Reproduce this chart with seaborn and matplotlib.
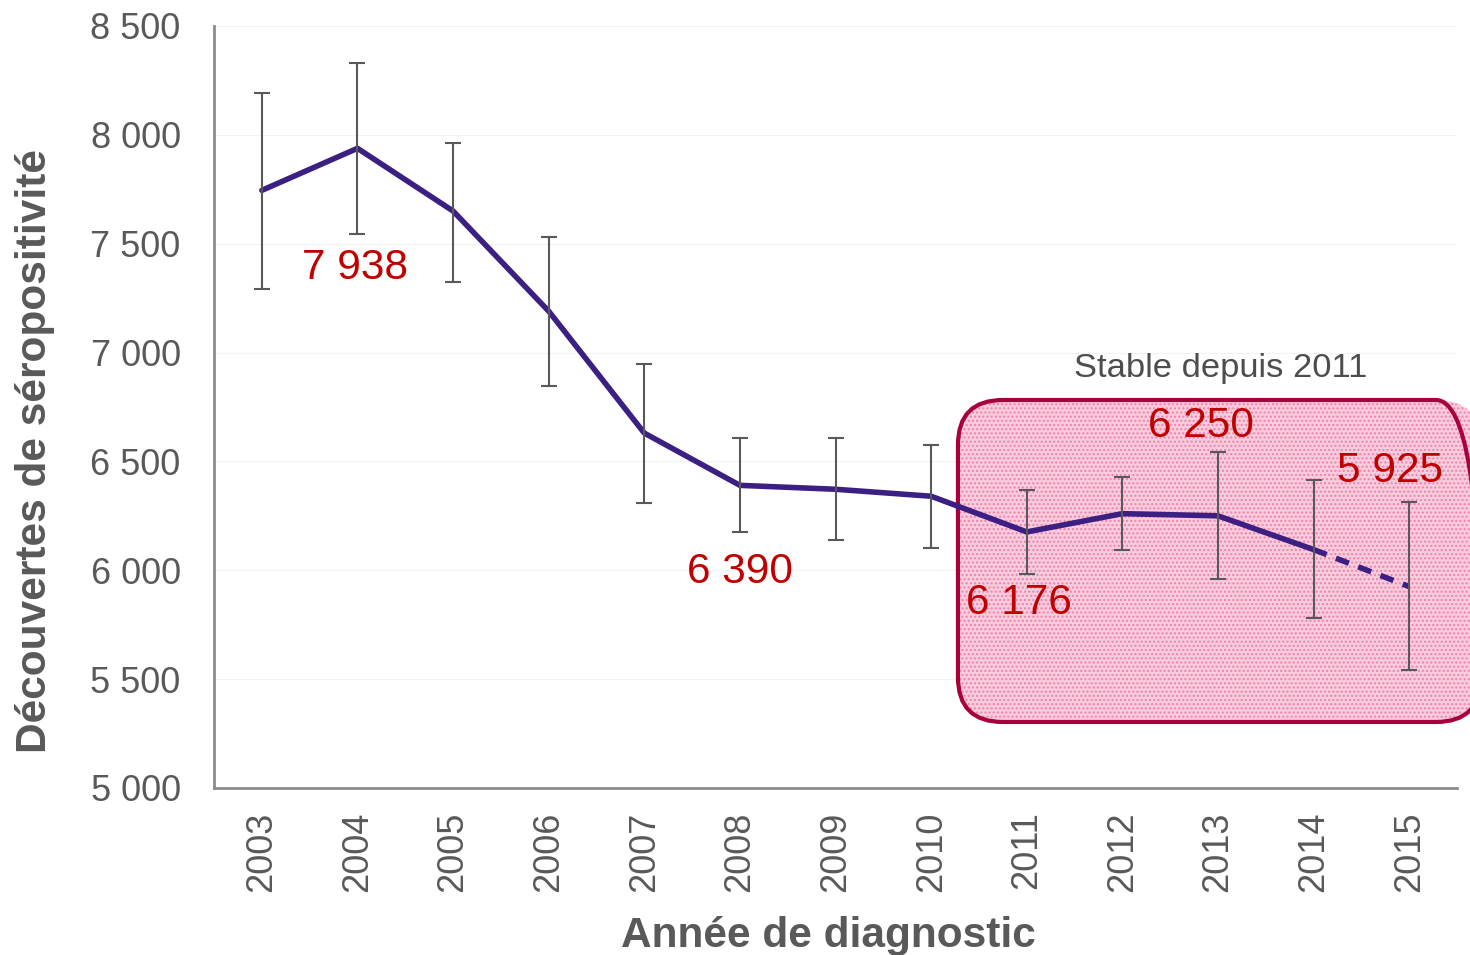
import matplotlib
matplotlib.use("Agg")
import matplotlib.pyplot as plt
from matplotlib.patches import FancyBboxPatch
from matplotlib.transforms import IdentityTransform
from matplotlib.ticker import FixedLocator
import numpy as np
import pandas as pd
import seaborn as sns

# data
years = [2003, 2004, 2005, 2006, 2007, 2008, 2009, 2010, 2011, 2012, 2013, 2014, 2015]
cases = [7745, 7938, 7650, 7190, 6630, 6390, 6372, 6340, 6176, 6260, 6250, 6095, 5925]
lower = [7292, 7545, 7324, 6846, 6309, 6176, 6139, 6102, 5983, 6093, 5960, 5781, 5542]
upper = [8192, 8330, 7963, 7531, 6948, 6608, 6608, 6575, 6369, 6428, 6543, 6415, 6314]
labels = ["7 938", "6 390", "6 176", "6 250", "5 925"]
label_pos = [(0.97, 7390), (5.0, 5993), (7.92, 5850), (9.82, 6663), (11.8, 6457)]
yticks = [5000, 5500, 6000, 6500, 7000, 7500, 8000, 8500]

sns.set_style("white")
plt.rcParams['font.family'] = ['Liberation Sans', 'DejaVu Sans']

GREY = '#595959'
LINE = '#3B1F82'
RED = '#C00000'

df = pd.DataFrame({'idx': np.arange(len(years)), 'cases': cases})
solid = df.iloc[:-1]
dashed = df.iloc[-2:]

fig = plt.figure(figsize=(14.7, 9.55), dpi=100)
ax = fig.add_axes([0.1456, 0.1749, 0.9912 - 0.1456, 0.9728 - 0.1749])

ax.set_xlim(-0.5, len(years) - 0.5)
ax.set_ylim(5000, 8500)
fig.canvas.draw()

# shaded "stable" box, corners computed from data coords (pixel space for round corners)
x0, y0 = ax.transData.transform((7.28, 5303))
x1, y1 = ax.transData.transform((12.75, 6782))
box_fill = FancyBboxPatch((x0, y0), x1 - x0, y1 - y0, boxstyle="round,pad=0,rounding_size=45",
                          transform=IdentityTransform(), facecolor='#F9CCDD', edgecolor='#EE82AA',
                          hatch='....', linewidth=0, zorder=1, clip_on=False)
box_edge = FancyBboxPatch((x0, y0), x1 - x0, y1 - y0, boxstyle="round,pad=0,rounding_size=45",
                          transform=IdentityTransform(), facecolor='none', edgecolor='#A8003C',
                          linewidth=3, zorder=1.5, clip_on=False)
ax.add_patch(box_fill)
ax.add_patch(box_edge)

sns.lineplot(data=solid, x='idx', y='cases', ax=ax, color=LINE, lw=4, zorder=3)
sns.lineplot(data=dashed, x='idx', y='cases', ax=ax, color=LINE, lw=4,
             linestyle=(0, (2.5, 1.8)), zorder=3)

err = np.array([np.array(cases) - np.array(lower), np.array(upper) - np.array(cases)])
ax.errorbar(df['idx'], cases, yerr=err, fmt='none', ecolor=GREY, elinewidth=1.5,
            capsize=6, capthick=1.5, zorder=4)

for txt, (xx, yy) in zip(labels, label_pos):
    ax.text(xx, yy, txt, color=RED, fontsize=30.5, ha='center', va='center', zorder=6)
ax.text(10.03, 6925, "Stable depuis 2011", color='#4d4d4d', fontsize=24.8,
        ha='center', va='center', zorder=6)

# axes styling
ax.set_yticks(yticks)
ax.set_yticklabels([f"{v:,}".replace(",", " ") for v in yticks])
ax.yaxis.grid(True, color='#F2F2F2', linewidth=0.8)
ax.set_axisbelow(True)
ax.xaxis.set_major_locator(FixedLocator(np.arange(-0.5, len(years), 1.0)))
ax.xaxis.set_minor_locator(FixedLocator(np.arange(len(years))))
ax.set_xticklabels([])
ax.set_xticklabels([str(y) for y in years], minor=True, rotation=90)
ax.tick_params(axis='x', which='major', length=10, width=1.5, color='#8c8c8c', direction='out')
ax.tick_params(axis='x', which='minor', length=0, pad=17, labelsize=26, labelcolor=GREY)
ax.tick_params(axis='y', length=8, width=1.5, color='#8c8c8c', direction='out',
               pad=16, labelsize=26, labelcolor=GREY)

sns.despine(ax=ax)
for s in ['left', 'bottom']:
    ax.spines[s].set_color('#8c8c8c')
    ax.spines[s].set_linewidth(2)

ax.set_xlabel("Année de diagnostic", fontsize=30.5, fontweight='bold', color=GREY)
ax.set_ylabel("Découvertes de séropositivité", fontsize=30.5, fontweight='bold', color=GREY)
ax.xaxis.set_label_coords(0.494, -0.168)
ax.yaxis.set_label_coords(-0.128, 0.442)

fig.savefig("out.png", dpi=100)
